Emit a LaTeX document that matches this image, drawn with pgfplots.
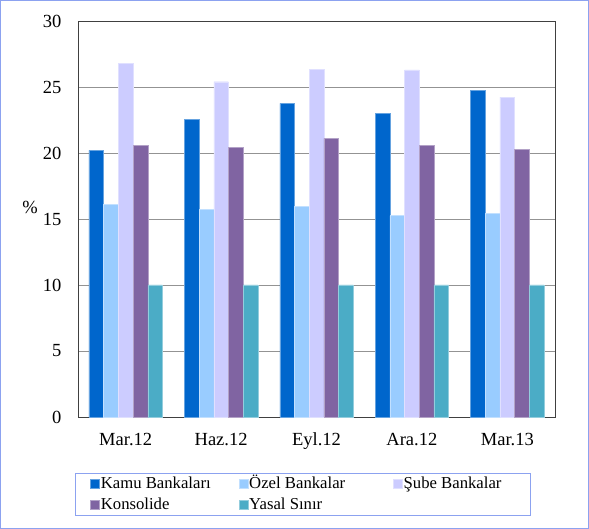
\documentclass[border=0pt]{standalone}
\usepackage{pgfplots}
\pgfplotsset{compat=1.18}
\usepackage{fontspec}
\setmainfont{Liberation Serif}
\definecolor{kamu}{HTML}{0066CC}
\definecolor{ozel}{HTML}{99CCFF}
\definecolor{sube}{HTML}{CCCCFF}
\definecolor{kons}{HTML}{8064A2}
\definecolor{yasal}{HTML}{4BACC6}
\definecolor{frame}{HTML}{8CA2F0}
\begin{document}
\begin{tikzpicture}[x=1pt,y=1pt]
\draw[frame, line width=1pt] (0.5,0.5) rectangle (588.5,528.5);
\begin{axis}[
  at={(78pt,112pt)}, anchor=south west,
  scale only axis, width=477pt, height=396pt,
  ybar=0pt, bar width=14.7pt,
  xmin=-0.5, xmax=4.5, ymin=0, ymax=30,
  xtick=data, xticklabels={Mar.12,Haz.12,Eyl.12,Ara.12,Mar.13},
  ytick={0,5,...,30},
  ymajorgrids, grid style={color=gray!85, line width=0.9pt},
  major tick length=0pt,
  axis line style={color=black!75, line width=0.9pt},
  /pgf/number format/assume math mode=true,
  tick label style={font=\fontsize{18.5}{22}\selectfont},
  yticklabel style={xshift=-13pt},
  xticklabel style={anchor=base, yshift=-29pt},
  legend columns=3,
  legend style={at={(-0.0063,-0.1414)}, anchor=north west,
    draw=frame, line width=0.9pt,
    font=\fontsize{16.7}{19}\selectfont,
    inner xsep=15pt, inner ysep=0pt,
    row sep=0pt,
    nodes={inner xsep=1pt, inner ysep=1pt, text height=14pt, text depth=5pt}},
  legend cell align=left,
  legend image code/.code={\fill[#1] (0pt,-4pt) rectangle (9pt,5pt);},
  clip=false,
]
\addplot[fill=kamu, draw=kamu!60!white, line width=0.4pt] coordinates {(0,20.2) (1,22.55) (2,23.76) (3,23.0) (4,24.75)};
\addplot[fill=ozel, draw=ozel!60!white, line width=0.4pt] coordinates {(0,16.1) (1,15.75) (2,15.95) (3,15.25) (4,15.45)};
\addplot[fill=sube, draw=sube!60!white, line width=0.4pt] coordinates {(0,26.8) (1,25.4) (2,26.34) (3,26.3) (4,24.24)};
\addplot[fill=kons, draw=kons!60!white, line width=0.4pt] coordinates {(0,20.6) (1,20.45) (2,21.1) (3,20.6) (4,20.28)};
\addplot[fill=yasal, draw=yasal!60!white, line width=0.4pt] coordinates {(0,10) (1,10) (2,10) (3,10) (4,10)};
\legend{\makebox[137pt][l]{Kamu Bankaları},\makebox[143pt][l]{Özel Bankalar},\makebox[111pt][l]{Şube Bankalar},\makebox[137pt][l]{Konsolide},\makebox[143pt][l]{Yasal Sınır}}
\node[font=\fontsize{18.5}{22}\selectfont] at (axis description cs:-0.1006,0.53) {\%};
\end{axis}
\end{tikzpicture}
\end{document}
